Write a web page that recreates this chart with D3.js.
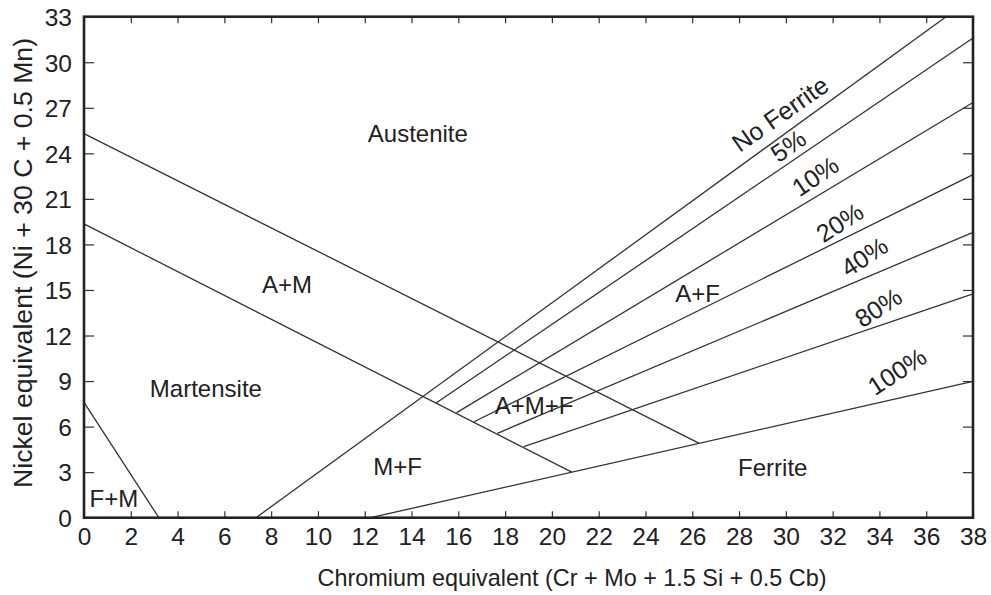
<!DOCTYPE html>
<html>
<meta charset="utf-8" />
<head>
    <script src="https://d3js.org/d3.v7.min.js"></script>
    <style>
        body { margin: 0; background: #fff; }
        text { font-family: "Liberation Sans", Arial, sans-serif; fill: #222; }
    </style>
</head>
<body>
    <div id="chart"></div>
    <script type="text/javascript">
        // Schaeffler diagram
        var xTicks = [0, 2, 4, 6, 8, 10, 12, 14, 16, 18, 20, 22, 24, 26, 28, 30, 32, 34, 36, 38];
        var yTicks = [0, 3, 6, 9, 12, 15, 18, 21, 24, 27, 30, 33];

        // phase boundaries [x0, y0, x1, y1]
        var upperMartensite = [0, 25.3, 26.3, 4.9];
        var lowerMartensite = [0, 19.35, 20.85, 3.0];
        var ferriteMartensite = [0, 7.6, 3.2, 0];

        // iso-ferrite lines
        var ferriteNames = ["No Ferrite", "5%", "10%", "20%", "40%", "80%", "100%"];
        var ferriteX0 = [7.35, 15.05, 15.93, 16.67, 17.67, 18.8, 12.25];
        var ferriteY0 = [0, 7.55, 6.92, 6.32, 5.56, 4.68, 0];
        var ferriteX1 = [36.85, 38, 38, 38, 38, 38, 38];
        var ferriteY1 = [33, 31.6, 27.35, 22.6, 18.8, 14.75, 8.98];
        // where each line's label sits
        var ferriteLabelX = [29.75, 30.1, 31.25, 32.3, 33.35, 33.95, 34.75];
        var ferriteLabelY = [26.6, 24.5, 22.5, 19.45, 17.2, 13.85, 9.65];
        var ferriteLabelAngle = [-35, -35, -34, -33, -33, -33, -33];

        // phase region labels
        var regionNames = ["Austenite", "A+M", "Martensite", "F+M", "M+F", "A+M+F", "A+F", "Ferrite"];
        var regionX = [14.27, 8.68, 5.21, 1.28, 13.4, 19.24, 26.23, 29.44];
        var regionY = [25.34, 15.4, 8.54, 1.29, 3.41, 7.42, 14.8, 3.34];

        const width = 991, height = 595;
        const plotLeft = 84, plotRight = 973, plotTop = 16.7, plotBottom = 517.7;

        var x = d3.scaleLinear().domain([0, 38]).range([plotLeft, plotRight]);
        var y = d3.scaleLinear().domain([0, 33]).range([plotBottom, plotTop]);

        var svg = d3.select("#chart").append("svg")
            .attr("width", width)
            .attr("height", height);

        svg.append("rect")
            .attr("width", width).attr("height", height)
            .attr("fill", "#fff");

        // axes, ticks on the inside, mirrored top and right
        var xBottom = svg.append("g")
            .attr("transform", "translate(0," + plotBottom + ")")
            .call(d3.axisBottom(x).tickValues(xTicks).tickSizeInner(-6.5).tickSizeOuter(0).tickPadding(10));
        var xTop = svg.append("g")
            .attr("transform", "translate(0," + plotTop + ")")
            .call(d3.axisTop(x).tickValues(xTicks).tickSizeInner(-6.5).tickSizeOuter(0).tickFormat(""));
        var yLeft = svg.append("g")
            .attr("transform", "translate(" + plotLeft + ",0)")
            .call(d3.axisLeft(y).tickValues(yTicks).tickSizeInner(-10).tickSizeOuter(0).tickPadding(12));
        var yRight = svg.append("g")
            .attr("transform", "translate(" + plotRight + ",0)")
            .call(d3.axisRight(y).tickValues(yTicks).tickSizeInner(-10).tickSizeOuter(0).tickFormat(""));

        svg.selectAll(".domain").remove();
        svg.selectAll(".tick line").attr("stroke", "#333").attr("stroke-width", 1.2);
        svg.selectAll(".tick text")
            .style("font-family", "'Liberation Sans', Arial, sans-serif")
            .style("font-size", "24.5px")
            .attr("fill", "#222");
        yLeft.selectAll(".tick text").attr("dy", "0.36em");

        // iso-ferrite lines
        svg.append("g").selectAll("line")
            .data(ferriteNames)
            .enter()
            .append("line")
            .attr("x1", function(d, i) { return x(ferriteX0[i]); })
            .attr("y1", function(d, i) { return y(ferriteY0[i]); })
            .attr("x2", function(d, i) { return x(ferriteX1[i]); })
            .attr("y2", function(d, i) { return y(ferriteY1[i]); })
            .attr("stroke", "#333")
            .attr("stroke-width", 1.3);

        // martensite boundaries
        svg.append("g").selectAll("line")
            .data([upperMartensite, lowerMartensite, ferriteMartensite])
            .enter()
            .append("line")
            .attr("x1", function(d) { return x(d[0]); })
            .attr("y1", function(d) { return y(d[1]); })
            .attr("x2", function(d) { return x(d[2]); })
            .attr("y2", function(d) { return y(d[3]); })
            .attr("stroke", "#333")
            .attr("stroke-width", 1.3);

        // frame
        svg.append("rect")
            .attr("x", plotLeft).attr("y", plotTop)
            .attr("width", plotRight - plotLeft).attr("height", plotBottom - plotTop)
            .attr("fill", "none")
            .attr("stroke", "#222")
            .attr("stroke-width", 2.6);

        // labels on the ferrite lines
        svg.append("g").selectAll("text")
            .data(ferriteNames)
            .enter()
            .append("text")
            .attr("transform", function(d, i) {
                return "translate(" + x(ferriteLabelX[i]) + "," + y(ferriteLabelY[i]) + ") rotate(" + ferriteLabelAngle[i] + ")";
            })
            .attr("text-anchor", "middle")
            .attr("dy", "0.36em")
            .style("font-size", "25px")
            .text(function(d) { return d; });

        // phase regions
        svg.append("g").selectAll("text")
            .data(regionNames)
            .enter()
            .append("text")
            .attr("x", function(d, i) { return x(regionX[i]); })
            .attr("y", function(d, i) { return y(regionY[i]); })
            .attr("text-anchor", "middle")
            .attr("dy", "0.36em")
            .style("font-size", "24px")
            .text(function(d) { return d; });

        // axis titles
        svg.append("text")
            .attr("x", 572)
            .attr("y", 586)
            .attr("text-anchor", "middle")
            .style("font-size", "23.4px")
            .text("Chromium equivalent (Cr + Mo + 1.5 Si + 0.5 Cb)");

        svg.append("text")
            .attr("transform", "translate(31.5,263) rotate(-90)")
            .attr("text-anchor", "middle")
            .style("font-size", "25.5px")
            .attr("textLength", 450)
            .attr("lengthAdjust", "spacingAndGlyphs")
            .text("Nickel equivalent (Ni + 30 C + 0.5 Mn)");
    </script>
</body>
</html>
